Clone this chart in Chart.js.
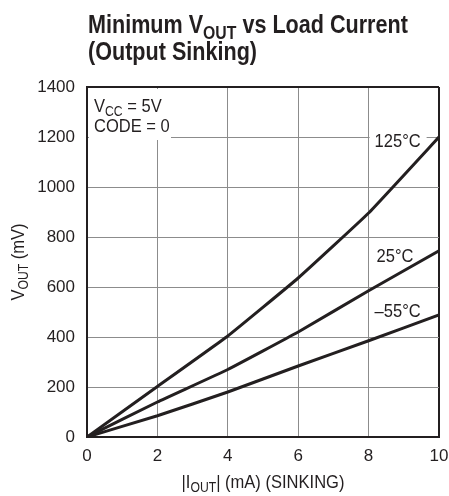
<!DOCTYPE html>
<html>
<head>
<meta charset="utf-8">
<script src="https://cdn.jsdelivr.net/npm/chart.js@4.4.1/dist/chart.umd.min.js"></script>
<style>
  body { margin: 0; background: #fff; }
  #wrap { width: 449px; height: 496px; position: relative; }
</style>
</head>
<body>
<div id="wrap"><canvas id="vout" width="449" height="496"></canvas></div>
<script>
const FONT = '"Liberation Sans", Arial, sans-serif';
const INK = '#231f20';
const NARROW = 0.87; // squeeze text sideways like a narrow Helvetica

// load current in mA
const current = [0, 2, 4, 6, 8, 10];
// minimum VOUT in mV
const vout125 = [0, 202, 404, 636, 896, 1200];
const vout25 = [0, 140, 270, 420, 585, 745];
const voutM55 = [0, 85, 180, 284, 385, 488];
const yTicks = [0, 200, 400, 600, 800, 1000, 1200, 1400];
const xTicks = [0, 2, 4, 6, 8, 10];

function pts(ys) {
  return current.map((x, i) => ({ x: x, y: ys[i] }));
}

// text with subscript parts at odd positions, e.g. ['V', 'OUT', ' (mV)']
function subText(ctx, parts, x, y, size, bold, align, sx) {
  sx = sx || NARROW;
  const big = (bold ? 'bold ' : '') + size + 'px ' + FONT;
  const small = (bold ? 'bold ' : '') + Math.round(size * 0.72) + 'px ' + FONT;
  let w = 0;
  parts.forEach((p, i) => {
    ctx.font = i % 2 ? small : big;
    w += ctx.measureText(p).width;
  });
  ctx.save();
  ctx.translate(align === 'center' ? x - w * sx / 2 : x, y);
  ctx.scale(sx, 1);
  ctx.textAlign = 'left';
  ctx.textBaseline = 'alphabetic';
  let cx = 0;
  parts.forEach((p, i) => {
    ctx.font = i % 2 ? small : big;
    ctx.fillText(p, cx, i % 2 ? size * 0.22 : 0);
    cx += ctx.measureText(p).width;
  });
  ctx.restore();
}

const labels = {
  id: 'labels',
  beforeDatasetsDraw(chart) {
    const ctx = chart.ctx;
    const xs = chart.scales.x, ys = chart.scales.y;
    ctx.save();
    ctx.fillStyle = '#fff';
    // box behind VCC / CODE
    ctx.fillRect(xs.left + 2, ys.top + 2, 82, ys.getPixelForValue(1200) - ys.top + 1);
    // gap behind 125°C
    ctx.fillRect(xs.getPixelForValue(8) + 1, ys.getPixelForValue(1200) - 8, 57, 16);
    ctx.restore();
  },
  afterDraw(chart) {
    const ctx = chart.ctx;
    const xs = chart.scales.x, ys = chart.scales.y;
    ctx.save();
    ctx.fillStyle = INK;
    subText(ctx, ['Minimum V', 'OUT', ' vs Load Current'], 88, 33, 26, true, 'left', 0.83);
    subText(ctx, ['(Output Sinking)'], 88, 60, 26, true, 'left', 0.83);

    subText(ctx, ['V', 'CC', ' = 5V'], xs.left + 7, 112, 19, false, 'left');
    subText(ctx, ['CODE = 0'], xs.left + 7, 132, 19, false, 'left');

    subText(ctx, ['125°C'], xs.getPixelForValue(8) + 6, ys.getPixelForValue(1200) + 10, 19, false, 'left');
    subText(ctx, ['25°C'], xs.getPixelForValue(8) + 8, ys.getPixelForValue(700), 19, false, 'left');
    subText(ctx, ['–55°C'], xs.getPixelForValue(8) + 6, ys.getPixelForValue(500) + 5, 19, false, 'left');

    subText(ctx, ['|I', 'OUT', '| (mA) (SINKING)'], (xs.left + xs.right) / 2, 488, 19, false, 'center');

    ctx.translate(24, (ys.top + ys.bottom) / 2);
    ctx.rotate(-Math.PI / 2);
    subText(ctx, ['V', 'OUT', ' (mV)'], 0, 0, 19, false, 'center');
    ctx.restore();
  }
};

const line = (data) => ({
  data: pts(data),
  borderColor: INK,
  borderWidth: 3,
  pointRadius: 0,
  tension: 0.1,
  fill: false
});

new Chart(document.getElementById('vout'), {
  type: 'line',
  data: {
    datasets: [line(vout125), line(vout25), line(voutM55)]
  },
  options: {
    responsive: false,
    animation: false,
    layout: { padding: { left: 0, top: 87, right: 10, bottom: 0 } },
    plugins: { legend: { display: false }, tooltip: { enabled: false } },
    scales: {
      x: {
        type: 'linear',
        min: 0,
        max: 10,
        afterBuildTicks: (s) => { s.ticks = xTicks.map(v => ({ value: v })); },
        afterFit: (s) => { s.height = 59; s.paddingLeft = 0; s.paddingRight = 0; },
        ticks: { color: INK, padding: 9, font: { family: FONT, size: 17 }, callback: (v) => String(v) },
        grid: {
          drawTicks: false,
          color: (c) => c.tick && c.tick.value === 10 ? INK : '#8c8c8c',
          lineWidth: (c) => c.tick && c.tick.value === 10 ? 2 : 1
        },
        border: { color: INK, width: 2 }
      },
      y: {
        min: 0,
        max: 1400,
        afterBuildTicks: (s) => { s.ticks = yTicks.map(v => ({ value: v })); },
        afterFit: (s) => { s.width = 87; s.paddingTop = 0; s.paddingBottom = 0; },
        ticks: { color: INK, padding: 12, font: { family: FONT, size: 17 }, callback: (v) => String(v) },
        grid: {
          drawTicks: false,
          color: (c) => c.tick && c.tick.value === 1400 ? INK : '#8c8c8c',
          lineWidth: (c) => c.tick && c.tick.value === 1400 ? 2 : 1
        },
        border: { color: INK, width: 2 }
      }
    }
  },
  plugins: [labels]
});
</script>
</body>
</html>
